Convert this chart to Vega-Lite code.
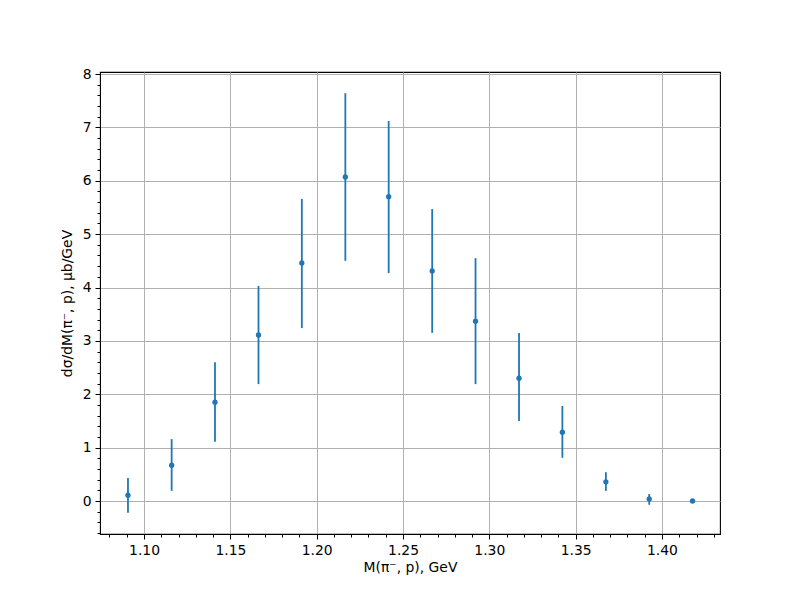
{
  "$schema": "https://vega.github.io/schema/vega-lite/v6.json",
  "autosize": "none",
  "width": 620,
  "height": 462,
  "padding": {"left": 100, "top": 72, "right": 80, "bottom": 66},
  "background": "white",
  "config": {
    "font": "DejaVu Sans",
    "view": {"stroke": "black", "strokeWidth": 1.1},
    "axis": {
      "labelFont": "DejaVu Sans",
      "titleFont": "DejaVu Sans",
      "labelFontSize": 13.9,
      "titleFontSize": 13.9,
      "titleFontWeight": "normal",
      "labelColor": "black",
      "titleColor": "black",
      "tickColor": "black",
      "domainColor": "black",
      "gridColor": "#b0b0b0",
      "gridWidth": 1,
      "tickSize": 5,
      "labelPadding": 4
    }
  },
  "data": {
    "values": [
      {"m": 1.0907, "y": 0.11, "lo": -0.22, "hi": 0.43},
      {"m": 1.1160, "y": 0.67, "lo": 0.19, "hi": 1.16},
      {"m": 1.1411, "y": 1.85, "lo": 1.11, "hi": 2.60},
      {"m": 1.1663, "y": 3.11, "lo": 2.19, "hi": 4.03},
      {"m": 1.1914, "y": 4.46, "lo": 3.24, "hi": 5.66},
      {"m": 1.2166, "y": 6.07, "lo": 4.50, "hi": 7.64},
      {"m": 1.2417, "y": 5.70, "lo": 4.27, "hi": 7.12},
      {"m": 1.2669, "y": 4.31, "lo": 3.15, "hi": 5.47},
      {"m": 1.2920, "y": 3.37, "lo": 2.19, "hi": 4.55},
      {"m": 1.3172, "y": 2.30, "lo": 1.50, "hi": 3.15},
      {"m": 1.3423, "y": 1.29, "lo": 0.81, "hi": 1.78},
      {"m": 1.3675, "y": 0.36, "lo": 0.19, "hi": 0.54},
      {"m": 1.3926, "y": 0.04, "lo": -0.07, "hi": 0.13},
      {"m": 1.4177, "y": 0.0, "lo": 0.0, "hi": 0.0}
    ]
  },
  "layer": [
    {
      "mark": {"type": "rule", "color": "#1f77b4", "strokeWidth": 1.8},
      "encoding": {
        "x": {
          "field": "m", "type": "quantitative",
          "scale": {"domain": [1.0745, 1.4336], "nice": false, "zero": false},
          "axis": {
            "values": [1.10, 1.15, 1.20, 1.25, 1.30, 1.35, 1.40],
            "format": ".2f",
            "title": "M(π⁻, p), GeV",
            "titlePadding": 4,
            "grid": true
          }
        },
        "y": {
          "field": "lo", "type": "quantitative",
          "scale": {"domain": [-0.618, 8.0375], "nice": false, "zero": false},
          "axis": {
            "values": [0, 1, 2, 3, 4, 5, 6, 7, 8],
            "title": "dσ/dM(π⁻, p), μb/GeV",
            "titlePadding": 8,
            "grid": true
          }
        },
        "y2": {"field": "hi"}
      }
    },
    {
      "mark": {"type": "point", "filled": true, "color": "#1f77b4", "opacity": 1, "size": 28},
      "encoding": {
        "x": {
          "field": "m", "type": "quantitative",
          "axis": {
            "orient": "bottom",
            "values": [1.08, 1.09, 1.11, 1.12, 1.13, 1.14, 1.16, 1.17, 1.18, 1.19, 1.21, 1.22, 1.23, 1.24, 1.26, 1.27, 1.28, 1.29, 1.31, 1.32, 1.33, 1.34, 1.36, 1.37, 1.38, 1.39, 1.41, 1.42, 1.43],
            "labels": false, "grid": false, "domain": false, "tickSize": 3, "title": null
          }
        },
        "y": {
          "field": "y", "type": "quantitative",
          "axis": {
            "orient": "left",
            "values": [-0.6, -0.4, -0.2, 0.2, 0.4, 0.6, 0.8, 1.2, 1.4, 1.6, 1.8, 2.2, 2.4, 2.6, 2.8, 3.2, 3.4, 3.6, 3.8, 4.2, 4.4, 4.6, 4.8, 5.2, 5.4, 5.6, 5.8, 6.2, 6.4, 6.6, 6.8, 7.2, 7.4, 7.6, 7.8],
            "labels": false, "grid": false, "domain": false, "tickSize": 3, "title": null
          }
        }
      }
    }
  ],
  "resolve": {"axis": {"x": "independent", "y": "independent"}}
}
